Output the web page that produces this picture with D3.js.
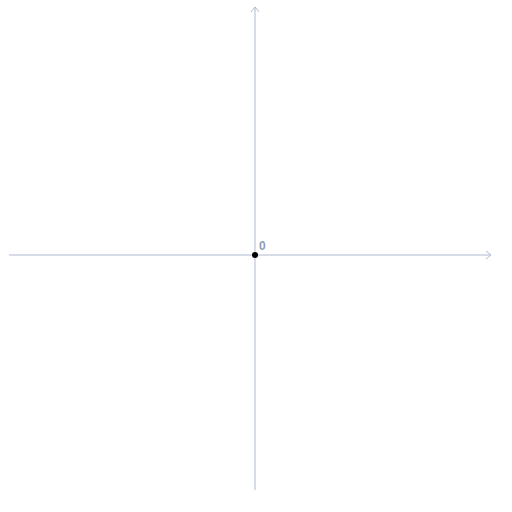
<!DOCTYPE html>
<html><head><meta charset="utf-8">
<script src="https://cdn.jsdelivr.net/npm/d3@7"></script>
<style>html,body{margin:0;padding:0;background:#fff;}</style>
</head><body>
<script>
// Data
const xDomain = [-10, 10];
const yDomain = [-10, 10];
const points = [{x: 0, y: 0, label: "0"}];

const W = 512, H = 512;
const svg = d3.select("body").append("svg").attr("width", W).attr("height", H);

const x = d3.scaleLinear().domain(xDomain).range([9, 501]);
const y = d3.scaleLinear().domain(yDomain).range([500, 10]);

const axisColor = "#afbbd0";
const x0 = x(0), y0 = y(0);

// x axis
svg.append("line").attr("x1", x(xDomain[0])).attr("x2", 491).attr("y1", y0).attr("y2", y0)
  .attr("stroke", axisColor).attr("stroke-width", 1);
svg.append("path").attr("d", `M${491-5},${y0-4}L491,${y0}L${491-5},${y0+4}`)
  .attr("fill", "none").attr("stroke", axisColor).attr("stroke-width", 1);

// y axis
svg.append("line").attr("x1", x0).attr("x2", x0).attr("y1", 490).attr("y2", 7)
  .attr("stroke", axisColor).attr("stroke-width", 1);
svg.append("path").attr("d", `M${x0-4},${7+5}L${x0},7L${x0+4},${7+5}`)
  .attr("fill", "none").attr("stroke", axisColor).attr("stroke-width", 1);

// points
svg.selectAll("circle.pt").data(points).join("circle").attr("class", "pt")
  .attr("cx", d => x(d.x)).attr("cy", d => y(d.y)).attr("r", 3).attr("fill", "#000");
svg.selectAll("text.lbl").data(points).join("text").attr("class", "lbl")
  .attr("x", d => x(d.x) + 4).attr("y", d => y(d.y) - 5)
  .attr("font-family", "Arial, Liberation Sans, sans-serif").attr("font-size", 12)
  .attr("font-weight", "bold").attr("fill", "#8e9db6").text(d => d.label);
</script>
</body></html>
